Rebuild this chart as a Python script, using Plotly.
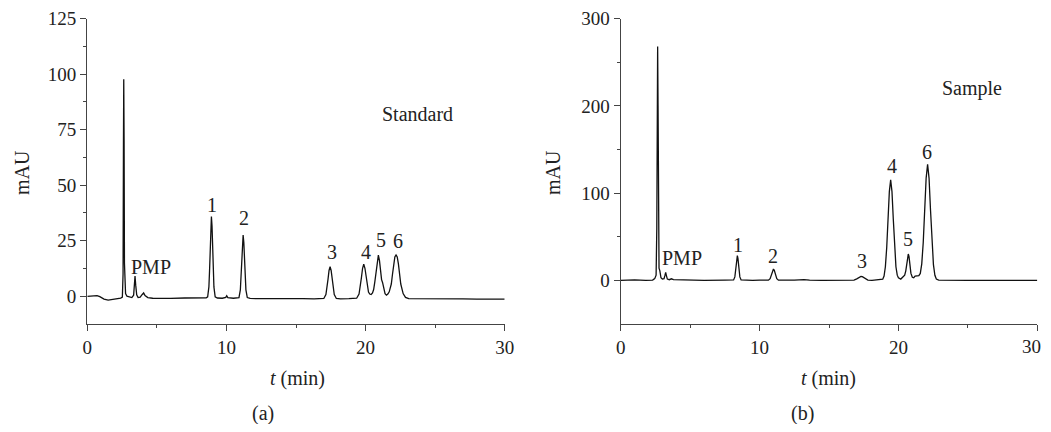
import plotly.graph_objects as go

# ---------------- data ----------------
# (a) Standard chromatogram: (t [min], mAU)
standard_points = [
    (0.0, -0.1), (0.4, 0.0), (0.7, 0.3), (0.9, -0.2), (1.2, -1.3), (1.5, -1.7),
    (1.8, -1.5), (2.1, -1.0), (2.4, -0.8), (2.52, -0.4), (2.57, 10), (2.60, 70),
    (2.62, 97.7), (2.645, 70), (2.67, 15), (2.70, 3.5), (2.75, 1.2), (2.85, 0.0),
    (3.0, -0.4), (3.2, -0.6), (3.33, 0.5), (3.38, 5.5), (3.43, 9.1), (3.48, 5.0),
    (3.55, 0.6), (3.65, -0.6), (3.8, -0.4), (3.95, 0.8), (4.05, 1.5), (4.15, 0.3),
    (4.35, -0.6), (4.7, -0.9), (5.3, -1.0), (6.0, -1.0), (7.0, -0.8), (8.0, -0.9),
    (8.55, -0.7),
    # peak 1
    (8.65, -0.3), (8.74, 4.2), (8.785, 11.2), (8.83, 21.5), (8.875, 31.6), (8.92, 35.9),
    (8.965, 31.6), (9.01, 21.5), (9.055, 11.2), (9.10, 4.2), (9.19, -0.3),
    (9.35, -0.8), (9.7, -0.9), (9.95, -0.5), (10.02, 0.2), (10.1, -0.6), (10.5, -0.9),
    (10.8, -0.8),
    # peak 2
    (10.9, -0.6), (11.0, 2.9), (11.05, 8.4), (11.1, 16.4), (11.15, 24.2), (11.2, 27.6),
    (11.25, 24.2), (11.3, 16.4), (11.35, 8.4), (11.4, 2.9), (11.5, -0.6),
    (11.7, -1.0), (12.5, -1.1), (13.5, -1.0), (14.5, -1.2), (15.5, -1.1), (16.3, -1.2),
    (16.8, -1.0),
    # peak 3
    (17.0, -1.0), (17.15, 0.8), (17.225, 3.5), (17.3, 7.6), (17.375, 11.6), (17.45, 13.3),
    (17.525, 11.6), (17.6, 7.6), (17.675, 3.5), (17.75, 0.8), (17.9, -1.0),
    (18.2, -1.2), (18.8, -1.1),
    # peak 4
    (19.36, -0.9), (19.53, 1.0), (19.615, 3.9), (19.70, 8.3), (19.785, 12.6), (19.87, 14.4),
    (19.955, 12.6), (20.04, 8.3), (20.125, 4.2), (20.21, 1.9), (20.3, 1.0), (20.4, 0.8),
    # peak 5
    (20.5, 1.5), (20.58, 3.0), (20.665, 6.5), (20.75, 11.5), (20.835, 16.5), (20.92, 18.5),
    (21.0, 16.0), (21.08, 10.5), (21.15, 7.5), (21.22, 6.2), (21.3, 3.5), (21.4, 1.2),
    (21.5, 0.5),
    # peak 6
    (21.6, 1.0), (21.7, 2.0), (21.85, 5.5), (21.935, 9.9), (22.02, 14.6), (22.105, 17.7),
    (22.19, 18.6), (22.275, 17.7), (22.36, 14.6), (22.445, 9.9), (22.53, 5.5), (22.7, 1.2),
    (22.87, -0.5), (23.1, -1.1), (24.0, -1.2), (25.0, -1.1), (26.0, -1.3), (27.0, -1.2),
    (28.0, -1.3), (29.0, -1.3), (30.0, -1.3),
]

# (b) Sample chromatogram: (t [min], mAU)
sample_points = [
    (0.0, 0.0), (1.0, 0.5), (1.8, 0.0), (2.3, 0.3), (2.45, 2.0), (2.55, 6.0),
    (2.60, 60), (2.63, 200), (2.66, 268), (2.69, 200), (2.72, 60), (2.76, 14),
    (2.82, 11), (2.9, 3), (3.0, 1.5), (3.12, 2.0), (3.19, 6.0), (3.24, 9.2),
    (3.29, 5.5), (3.36, 1.5), (3.5, 0.8), (3.65, 1.8), (3.8, 0.8), (4.2, 0.5),
    (5.0, 0.2), (6.0, 0.0), (7.5, 0.2), (8.0, 0.5),
    # peak 1
    (8.13, 0.5), (8.22, 4.0), (8.265, 9.3), (8.31, 17.3), (8.355, 25.0), (8.4, 28.3),
    (8.445, 25.0), (8.49, 17.3), (8.535, 9.3), (8.58, 4.0), (8.67, 0.5),
    (9.0, 0.1), (9.5, 0.0), (10.0, 0.3), (10.6, 0.2),
    # peak 2
    (10.64, 0.3), (10.76, 2.0), (10.82, 4.4), (10.88, 8.0), (10.94, 11.5), (11.0, 13.0),
    (11.06, 11.5), (11.12, 8.0), (11.18, 4.4), (11.24, 2.0), (11.36, 0.3),
    (11.8, 0.1), (12.5, 0.2), (13.2, 0.8), (13.6, 0.2), (14.5, 0.0), (15.5, 0.1),
    (16.5, 0.0), (16.8, 0.4),
    # peak 3
    (17.0, 1.8), (17.1, 3.0), (17.2, 4.2), (17.3, 4.6), (17.4, 4.2), (17.5, 3.0),
    (17.6, 1.8), (17.8, 0.4), (18.1, 0.1), (18.5, 0.5),
    # peak 4
    (18.87, 1.3), (18.965, 5.0), (19.06, 15.6), (19.155, 37.5), (19.25, 70.0),
    (19.345, 101.7), (19.44, 115.3), (19.535, 101.7), (19.63, 70.0), (19.725, 37.5),
    (19.82, 15.6), (19.915, 6.0), (20.0, 3.0), (20.17, 1.5), (20.3, 3.5),
    # peak 5
    (20.45, 6.0), (20.53, 11.0), (20.61, 22.0), (20.66, 28.0), (20.71, 30.2),
    (20.76, 27.5), (20.81, 20.5), (20.9, 8.0), (21.0, 3.5), (21.1, 3.0), (21.2, 5.0),
    # peak 6
    (21.47, 5.5), (21.575, 8.0), (21.68, 19.0), (21.785, 43.2), (21.89, 80.7),
    (21.995, 117.3), (22.1, 133.0), (22.205, 117.3), (22.31, 80.7), (22.415, 43.2),
    (22.52, 18.0), (22.625, 5.8), (22.73, 1.5), (22.9, 0.3), (23.5, 0.0), (24.5, 0.2),
    (25.0, 0.0), (26.0, 0.0), (28.0, 0.0), (30.0, 0.0),
]

t_standard = [p[0] for p in standard_points]
mau_standard = [p[1] for p in standard_points]
t_sample = [p[0] for p in sample_points]
mau_sample = [p[1] for p in sample_points]

# peak labels: (text, t, mAU)
standard_labels = [("PMP", 4.58, 13.3), ("1", 8.99, 41.1), ("2", 11.29, 35.1),
                   ("3", 17.6, 19.8), ("4", 20.0, 20.1), ("5", 21.1, 25.4),
                   ("6", 22.3, 25.0), ("Standard", 23.7, 82.0)]
sample_labels = [("PMP", 4.39, 25.6), ("1", 8.42, 40.9), ("2", 10.99, 27.5),
                 ("3", 17.37, 21.8), ("4", 19.51, 131.7), ("5", 20.71, 47.4),
                 ("6", 22.03, 147.7), ("Sample", 25.3, 219.5)]

x_range = [0, 30]
x_ticks = [0, 10, 20, 30]
x_ticktext = ["0", "10", "20", "30"]
y_range_a = [-12.5, 125]
y_ticks_a = [0, 25, 50, 75, 100, 125]
y_range_b = [-50, 300]
y_ticks_b = [0, 100, 200, 300]

# ---------------- figure ----------------
FONT = "Liberation Serif"
TXT = "#222222"
AX = "#444444"
TICK_SIZE = 19
LABEL_SIZE = 20

# the page body adds an 8 px margin; keep the figure inside the window
OFF = 8
W, H = 1051 - OFF, 432 - 2 * OFF

def px_x(x):
    return (x - OFF) / W

def px_y(y):
    return (H - (y - OFF)) / H

fig = go.Figure()
fig.add_trace(go.Scatter(x=t_standard, y=mau_standard, mode="lines",
                         line=dict(color="#111111", width=1.3),
                         xaxis="x", yaxis="y", showlegend=False, hoverinfo="skip"))
fig.add_trace(go.Scatter(x=t_sample, y=mau_sample, mode="lines",
                         line=dict(color="#111111", width=1.3),
                         xaxis="x2", yaxis="y2", showlegend=False, hoverinfo="skip"))

def xaxis_cfg(domain, anchor, ticktext):
    return dict(domain=domain, anchor=anchor, range=x_range, tickvals=x_ticks,
                ticktext=ticktext,
                automargin=False, ticklabeloverflow="allow",
                ticks="outside", ticklen=6, tickwidth=1.2, tickcolor=AX,
                showline=True, linecolor=AX, linewidth=1.3, showgrid=False,
                zeroline=False, tickfont=dict(family=FONT, size=TICK_SIZE, color=TXT),
                minor=dict(tickvals=[5, 15, 25], ticks="outside", ticklen=3,
                           tickcolor=AX, tickwidth=1.2, showgrid=False))

def yaxis_cfg(domain, anchor, rng, tv, minor_vals):
    return dict(domain=domain, anchor=anchor, range=rng, tickvals=tv,
                automargin=False, ticklabeloverflow="allow",
                ticks="outside", ticklen=6, tickwidth=1.2, tickcolor=AX,
                showline=True, linecolor=AX, linewidth=1.3, showgrid=False,
                zeroline=False, tickfont=dict(family=FONT, size=TICK_SIZE, color=TXT),
                minor=dict(tickvals=minor_vals, ticks="outside", ticklen=3,
                           tickcolor=AX, tickwidth=1.2, showgrid=False))

ydom = [px_y(324), px_y(18.7)]

# last tick label of panel (b) sits at the window edge: drawn as an annotation nudged inward
x2_ticktext = x_ticktext[:-1] + [""]

fig.update_layout(
    width=W, height=H, autosize=False, margin=dict(l=0, r=0, t=0, b=0, pad=0),
    paper_bgcolor="white", plot_bgcolor="white",
    xaxis=xaxis_cfg([px_x(87.3), px_x(504.7)], "y", x_ticktext),
    yaxis=yaxis_cfg(ydom, "x", y_range_a, y_ticks_a, [12.5, 37.5, 62.5, 87.5, 112.5]),
    xaxis2=xaxis_cfg([px_x(620.7), px_x(1037.3)], "y2", x2_ticktext),
    yaxis2=yaxis_cfg(ydom, "x2", y_range_b, y_ticks_b, [50, 150, 250]),
)

ann = []
for text, tx, ty in standard_labels:
    ann.append(dict(text=text, x=tx, y=ty, xref="x", yref="y", showarrow=False,
                    font=dict(family=FONT, size=LABEL_SIZE, color=TXT)))
for text, tx, ty in sample_labels:
    ann.append(dict(text=text, x=tx, y=ty, xref="x2", yref="y2", showarrow=False,
                    font=dict(family=FONT, size=LABEL_SIZE, color=TXT)))

ann.append(dict(text=x_ticktext[-1], x=x_ticks[-1], xref="x2", y=px_y(346), yref="paper",
                xanchor="center", yanchor="middle", xshift=-6, showarrow=False,
                font=dict(family=FONT, size=TICK_SIZE, color=TXT)))

paper_texts = [
    ("mAU", 22, 173, -90), ("mAU", 553, 173, -90),
    ("<i>t</i> (min)", 297, 378, 0), ("<i>t</i> (min)", 828, 378, 0),
    ("(a)", 263, 413, 0), ("(b)", 802, 413, 0),
]
for text, px, py, ang in paper_texts:
    ann.append(dict(text=text, x=px_x(px), y=px_y(py), xref="paper", yref="paper",
                    showarrow=False, textangle=ang, xanchor="center", yanchor="middle",
                    font=dict(family=FONT, size=LABEL_SIZE, color=TXT)))
fig.update_layout(annotations=ann)

fig.write_html("out.html")
